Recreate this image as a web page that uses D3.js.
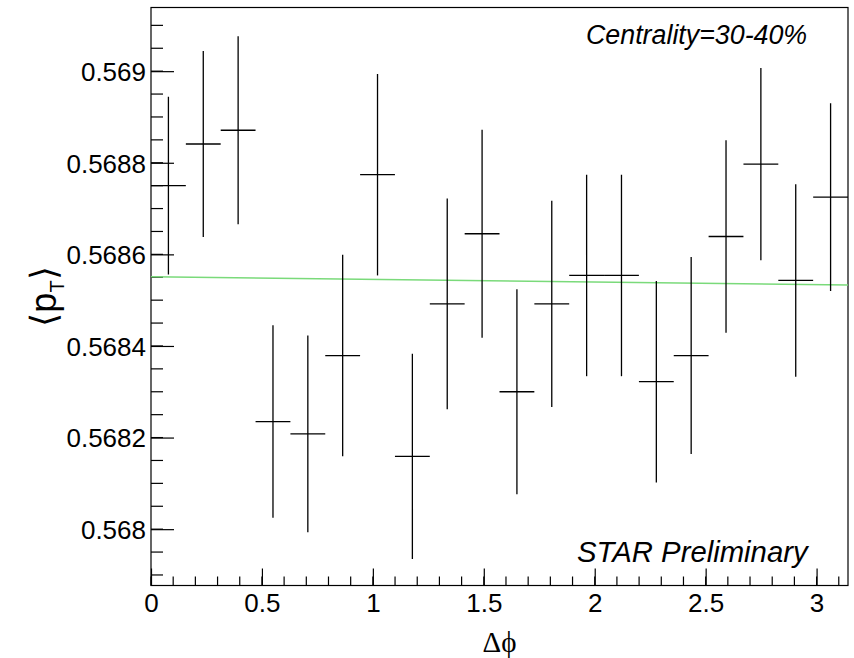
<!DOCTYPE html>
<html>
<head>
<meta charset="utf-8">
<script src="https://cdn.jsdelivr.net/npm/d3@7"></script>
<style>
  html, body { margin: 0; padding: 0; background: #fff; }
  svg { display: block; }
  text { fill: #000; }
</style>
</head>
<body>
<svg id="chart" width="854" height="658"></svg>
<script>
// Mean transverse momentum vs. azimuthal angle difference (20 bins over [0, pi])
const dphi = [0.0785, 0.2356, 0.3927, 0.5498, 0.7069, 0.8639, 1.0210, 1.1781, 1.3352, 1.4923,
              1.6493, 1.8064, 1.9635, 2.1206, 2.2777, 2.4347, 2.5918, 2.7489, 2.9060, 3.0631];
const meanPt = [0.568750, 0.568841, 0.568871, 0.568235, 0.568208, 0.568379, 0.568774, 0.568159, 0.568492, 0.568645,
                0.568300, 0.568492, 0.568554, 0.568554, 0.568322, 0.568379, 0.568639, 0.568797, 0.568543, 0.568725];
const ptErr = [0.000194, 0.000203, 0.000205, 0.000210, 0.000215, 0.000220, 0.000220, 0.000224, 0.000230, 0.000227,
               0.000224, 0.000225, 0.000220, 0.000220, 0.000220, 0.000215, 0.000210, 0.000210, 0.000210, 0.000205];
const dphiHalfBin = [0.0785, 0.0785, 0.0785, 0.0785, 0.0785, 0.0785, 0.0785, 0.0785, 0.0785, 0.0785,
                     0.0785, 0.0785, 0.0785, 0.0785, 0.0785, 0.0785, 0.0785, 0.0785, 0.0785, 0.0785];

// Linear fit: p0 + p1 * dphi
const fitP0 = 0.568551;
const fitP1 = -0.0000057;

const xTicks = [0, 0.5, 1, 1.5, 2, 2.5, 3];
const yTicks = [0.568, 0.5682, 0.5684, 0.5686, 0.5688, 0.569];
const yTickLabels = ["0.568", "0.5682", "0.5684", "0.5686", "0.5688", "0.569"];
const xDomain = [0, Math.PI];
const yDomain = [0.567877, 0.569139];

const SANS = "'Liberation Sans', Arial, Helvetica, sans-serif";
const SERIF = "'Liberation Serif', 'DejaVu Serif', serif";

const svg = d3.select("#chart");
const L = 151, R = 848, T = 7.5, B = 585.5;

const x = d3.scaleLinear().domain(xDomain).range([L, R]);
const y = d3.scaleLinear().domain(yDomain).range([B, T]);

// Frame
svg.append("rect")
  .attr("x", L).attr("y", T).attr("width", R - L).attr("height", B - T)
  .attr("fill", "none").attr("stroke", "#000").attr("stroke-width", 1.2);

// Minor ticks
const xMinor = d3.range(0, 3.15, 0.1).filter(v => v <= Math.PI);
svg.append("g").selectAll("line").data(xMinor).join("line")
  .attr("x1", d => x(d)).attr("x2", d => x(d))
  .attr("y1", B).attr("y2", B - 9)
  .attr("stroke", "#000").attr("stroke-width", 1.2);
const yMinor = d3.range(0.5679, 0.56914, 0.00005);
svg.append("g").selectAll("line").data(yMinor).join("line")
  .attr("x1", L).attr("x2", L + 12)
  .attr("y1", d => y(d)).attr("y2", d => y(d))
  .attr("stroke", "#000").attr("stroke-width", 1.2);

// Major ticks through d3 axes
const xAxis = d3.axisBottom(x).tickValues(xTicks).tickSizeInner(-17).tickSizeOuter(0)
  .tickPadding(26).tickFormat(d3.format("~g"));
const gx = svg.append("g").attr("transform", `translate(0,${B})`).call(xAxis);
gx.select(".domain").remove();
gx.selectAll(".tick line").attr("stroke", "#000").attr("stroke-width", 1.2);
gx.selectAll(".tick text").attr("dy", 0).attr("y", 26.5)
  .style("font-family", SANS).style("font-size", "26px").attr("fill", "#000");

const yAxis = d3.axisLeft(y).tickValues(yTicks).tickSizeInner(-23).tickSizeOuter(0)
  .tickPadding(5).tickFormat((d, i) => yTickLabels[i]);
const gy = svg.append("g").attr("transform", `translate(${L},0)`).call(yAxis);
gy.select(".domain").remove();
gy.selectAll(".tick line").attr("stroke", "#000").attr("stroke-width", 1.2);
gy.selectAll(".tick text").attr("x", -5).attr("dy", "0.36em")
  .style("font-family", SANS).style("font-size", "26px").attr("fill", "#000");

// Fit line
const plot = svg.append("g");
svg.append("clipPath").attr("id", "clip").append("rect")
  .attr("x", L).attr("y", T).attr("width", R - L).attr("height", B - T);
plot.attr("clip-path", "url(#clip)");
const fitLine = d3.line().x(d => x(d)).y(d => y(fitP0 + fitP1 * d));
plot.append("path").datum(xDomain)
  .attr("d", fitLine)
  .attr("fill", "none").attr("stroke", "#7ada7a").attr("stroke-width", 1.6);

// Error bars
const pts = dphi.map((d, i) => ({ x: d, y: meanPt[i], e: ptErr[i], h: dphiHalfBin[i] }));
const g = plot.append("g").attr("stroke", "#000").attr("stroke-width", 1.3);
g.selectAll(".v").data(pts).join("line").attr("class", "v")
  .attr("x1", d => x(d.x)).attr("x2", d => x(d.x))
  .attr("y1", d => y(d.y - d.e)).attr("y2", d => y(d.y + d.e));
g.selectAll(".h").data(pts).join("line").attr("class", "h")
  .attr("x1", d => x(d.x - d.h)).attr("x2", d => x(d.x + d.h))
  .attr("y1", d => y(d.y)).attr("y2", d => y(d.y));

// Axis titles
svg.append("text")
  .attr("x", (L + R) / 2).attr("y", 652)
  .attr("text-anchor", "middle")
  .style("font-family", SERIF)
  .style("font-size", "29px")
  .text("\u0394\u03D5");

const yt = svg.append("text")
  .attr("transform", `translate(56,${(T + B) / 2}) rotate(-90)`)
  .attr("text-anchor", "middle")
  .style("font-family", SANS)
  .style("font-size", "36px");
yt.append("tspan").style("font-family", "'DejaVu Sans', sans-serif").style("font-weight", 200).text("\u27E8");
yt.append("tspan").text("p");
yt.append("tspan").style("font-size", "20px").attr("dy", 8).text("T");
yt.append("tspan").style("font-family", "'DejaVu Sans', sans-serif").style("font-weight", 200).attr("dy", -8).text("\u27E9");

// Annotations
svg.append("text")
  .attr("x", 586).attr("y", 44)
  .style("font-family", SANS).style("font-style", "italic").style("font-size", "26.8px")
  .text("Centrality=30-40%");
svg.append("text")
  .attr("x", 577).attr("y", 562)
  .style("font-family", SANS).style("font-style", "italic").style("font-size", "29.3px")
  .text("STAR Preliminary");
</script>
</body>
</html>
